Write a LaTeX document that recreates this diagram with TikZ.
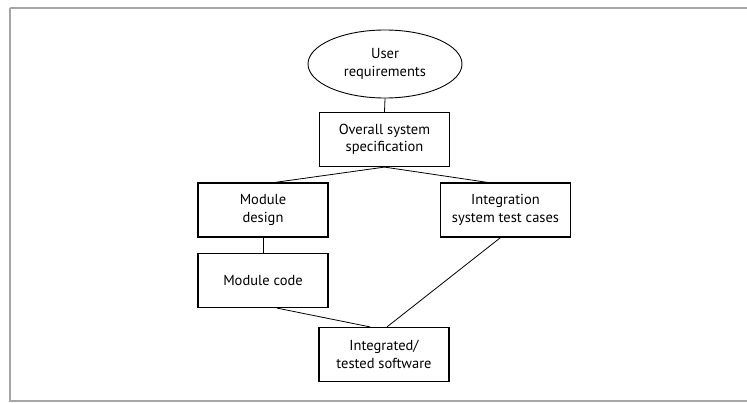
\documentclass[tikz,border=0pt]{standalone}
\usepackage{fontspec}
\setmainfont{PT Sans}
\usetikzlibrary{shapes.geometric}
\begin{document}
\begin{tikzpicture}[x=1pt,y=-1pt,
  every node/.style={font=\fontsize{14.5}{17.5}\selectfont, align=center, inner sep=0pt},
  stepbox/.style={draw, line width=1.2pt, minimum width=130pt, minimum height=54pt},
  link/.style={draw, line width=0.8pt}]
\useasboundingbox (0,0) rectangle (747,403);
% outer frame
\draw[gray!70, line width=2pt] (10,8) -- (10,401) -- (760,401);
\draw[gray!70, line width=2pt] (10,8) -- (760,8);
% nodes
\node[draw, ellipse, line width=0.9pt, minimum width=154pt, minimum height=68pt] (user) at (385,64) {User\\requirements};
\node[stepbox] (spec) at (384.5,139.5) {Overall system\\specification};
\node[stepbox] (mdes) at (263,210) {Module\\design};
\node[stepbox] (itest) at (505.5,210) {Integration\\system test cases};
\node[stepbox] (mcode) at (263,280.5) {Module code};
\node[stepbox] (integ) at (384,354.5) {Integrated/\\tested software};
% connectors
\draw[link] (user.south) -- (spec.north);
\draw[link] (spec.south) -- ([xshift=12pt]mdes.north);
\draw[link] (spec.south) -- ([xshift=-18pt]itest.north);
\draw[link] (mdes.south) -- (mcode.north);
\draw[link] ([xshift=14pt]mcode.south) -- ([xshift=-14pt]integ.north);
\draw[link] ([xshift=-5pt]itest.south) -- ([xshift=3pt]integ.north);
\end{tikzpicture}
\end{document}
